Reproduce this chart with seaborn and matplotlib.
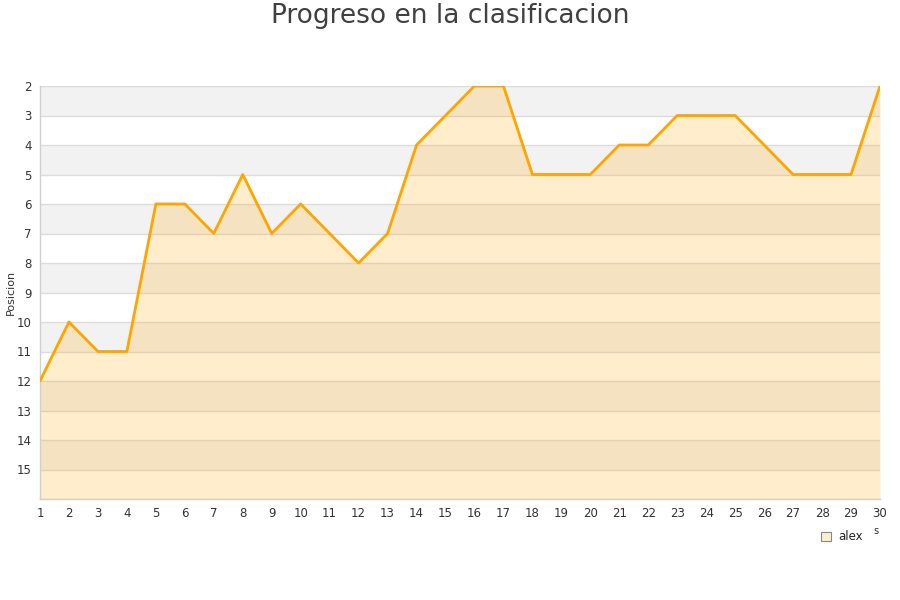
import matplotlib
matplotlib.use("Agg")
import matplotlib.pyplot as plt
import seaborn as sns
import pandas as pd
from matplotlib.patches import Patch

jornadas = list(range(1, 31))
posiciones = [12, 10, 11, 11, 6, 6, 7, 5, 7, 6, 7, 8, 7, 4, 3, 2, 2, 5, 5, 5, 4, 4, 3, 3, 3, 4, 5, 5, 5, 2]
y_ticks = list(range(2, 16))
title = "Progreso en la clasificacion"
y_label = "Posicion"
series_name = "alex"

sns.set_style("white")
plt.rcParams['font.family'] = ['DejaVu Sans']

df = pd.DataFrame({"jornada": jornadas, "posicion": posiciones})

fig = plt.figure(figsize=(9, 6), dpi=100)
ax = fig.add_axes([40/900, 1 - 499/600, 840/900, 413/600])

# alternating bands
for v in range(2, 16, 2):
    ax.axhspan(v, v + 1, color="#f2f2f2", zorder=0, lw=0)
for v in range(2, 17):
    ax.axhline(v, color="#dcdcdc", lw=1, zorder=1)

ax.fill_between(df["jornada"], df["posicion"], 16, color="#FFA500", alpha=0.2, lw=0, zorder=2)
sns.lineplot(data=df, x="jornada", y="posicion", ax=ax, color="#FFA500", lw=2.0, zorder=3, legend=False)

ax.set_xlim(1, 30)
ax.set_ylim(16, 2)
ax.set_xticks(jornadas)
ax.set_yticks(y_ticks)
ax.tick_params(axis="both", labelsize=8.5, colors="#333333", length=0, pad=6)
ax.set_xlabel("")
ax.set_ylabel(y_label, fontsize=8, color="#333333")
for s in ["top", "right"]:
    ax.spines[s].set_visible(False)
for s in ["left", "bottom"]:
    ax.spines[s].set_color("#d0d0d0")
    ax.spines[s].set_linewidth(1)
ax.yaxis.set_label_coords(-24/840, 0.5)

fig.text(0.5, 1 - 16/600, title, ha="center", va="center", fontsize=19, color="#404040")
fig.text(873/900, 1 - 531/600, "s", ha="left", va="center", fontsize=7, color="#333333")

handle = Patch(facecolor="#FFEECC", edgecolor="#888888", lw=0.8)
fig.legend([handle], [series_name], loc="center", bbox_to_anchor=(842/900, 1 - 537/600),
           frameon=False, fontsize=8.5, handlelength=0.8, handleheight=0.8, handletextpad=0.6)

fig.savefig("out.png", dpi=100)
